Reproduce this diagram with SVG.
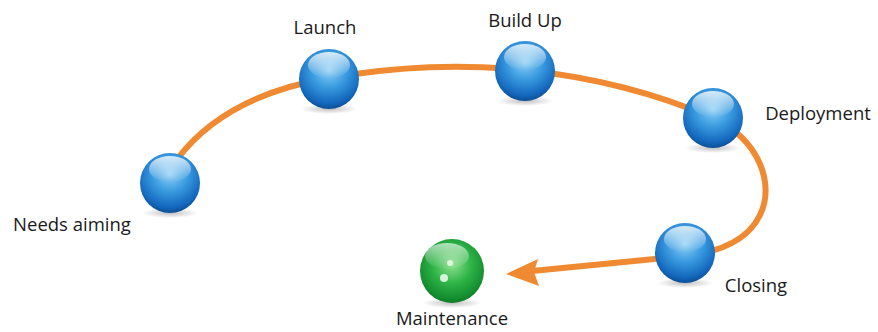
<svg xmlns="http://www.w3.org/2000/svg" width="878" height="332" viewBox="0 0 878 332">
<style>
.lbl{font-family:"Open Sans","Liberation Sans",sans-serif;font-size:18.5px;fill:#1a1a1a;text-anchor:middle}
.conn{fill:none;stroke:#f08a32;stroke-width:6;stroke-linecap:butt}
</style>
<defs>
<radialGradient id="blue" cx="0.5" cy="0.35" r="0.65">
<stop offset="0" stop-color="#8fd0f5"/>
<stop offset="0.45" stop-color="#3a9be0"/>
<stop offset="0.85" stop-color="#1468bd"/>
<stop offset="1" stop-color="#0b4f96"/>
</radialGradient>
<radialGradient id="green" cx="0.5" cy="0.4" r="0.65">
<stop offset="0" stop-color="#8fe08f"/>
<stop offset="0.45" stop-color="#2fb548"/>
<stop offset="0.85" stop-color="#118a2c"/>
<stop offset="1" stop-color="#0a6a20"/>
</radialGradient>
<linearGradient id="hl" x1="0" y1="0" x2="0" y2="1">
<stop offset="0" stop-color="#fff" stop-opacity="0.8"/>
<stop offset="1" stop-color="#fff" stop-opacity="0"/>
</linearGradient>
<radialGradient id="shadow" cx="0.5" cy="0.5" r="0.5">
<stop offset="0" stop-color="#000" stop-opacity="0.25"/>
<stop offset="1" stop-color="#000" stop-opacity="0"/>
</radialGradient>
<g id="bsphere">
<ellipse cx="0" cy="30" rx="28" ry="5" fill="url(#shadow)"/>
<circle r="30" fill="url(#blue)"/>
<ellipse cx="0" cy="-14" rx="21" ry="13" fill="url(#hl)"/>
</g>
</defs>
<g id="connectors">
<path class="conn" d="M178,158 C215,110 270,88 329,78 C400,66 460,64 525,70 C600,78 660,95 713,118 C760,140 775,185 760,215 C748,240 720,252 685,256 L532,271"/>
<path d="M506,274 L538,259 L534,272 L539,286 Z" fill="#f08a32"/>
</g>
<g id="needs-aiming"><use href="#bsphere" x="170" y="183"/><text class="lbl" x="72" y="231">Needs aiming</text></g>
<g id="launch"><use href="#bsphere" x="329" y="79"/><text class="lbl" x="325" y="34">Launch</text></g>
<g id="build-up"><use href="#bsphere" x="525" y="71"/><text class="lbl" x="525" y="27">Build Up</text></g>
<g id="deployment"><use href="#bsphere" x="713" y="118"/><text class="lbl" x="818" y="120">Deployment</text></g>
<g id="closing"><use href="#bsphere" x="685" y="253"/><text class="lbl" x="756" y="292">Closing</text></g>
<g id="maintenance">
<ellipse cx="452" cy="303" rx="30" ry="5" fill="url(#shadow)"/>
<circle cx="452" cy="271" r="32" fill="url(#green)"/>
<ellipse cx="447" cy="256" rx="22" ry="13" fill="url(#hl)" opacity="0.8"/>
<circle cx="444" cy="278" r="4" fill="#fff" opacity="0.8"/>
<circle cx="450" cy="263" r="3" fill="#fff" opacity="0.7"/>
<text class="lbl" x="452" y="325">Maintenance</text>
</g>
</svg>
